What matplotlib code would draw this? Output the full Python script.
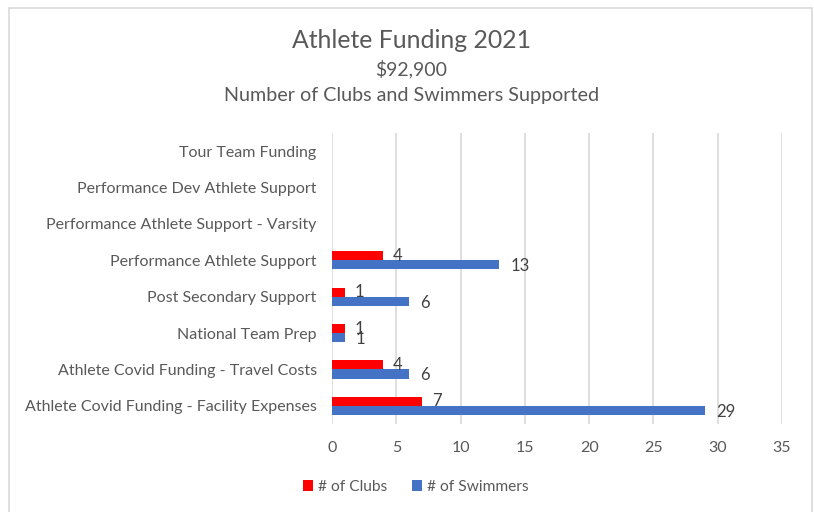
import matplotlib
matplotlib.use("Agg")
import matplotlib.pyplot as plt
import numpy as np

categories = [
    "Tour Team Funding",
    "Performance Dev Athlete Support",
    "Performance Athlete Support - Varsity",
    "Performance Athlete Support",
    "Post Secondary Support",
    "National Team Prep",
    "Athlete Covid Funding - Travel Costs",
    "Athlete Covid Funding - Facility Expenses",
]
clubs = [None, None, None, 4, 1, 1, 4, 7]
swimmers = [None, None, None, 13, 6, 1, 6, 29]
x_ticks = [0, 5, 10, 15, 20, 25, 30, 35]

plt.rcParams["font.family"] = ["Lato", "DejaVu Sans"]
TEXT = "#595959"
RED = "#ff0000"
BLUE = "#4472c4"

fig = plt.figure(figsize=(8.14, 5.12), dpi=100)
# outer chart border
fig.patches.append(plt.Rectangle((9 / 814, -0.05), 803 / 814, 1 - 8 / 512 + 0.05,
                                 transform=fig.transFigure, fill=False,
                                 edgecolor="#d9d9d9", linewidth=1.2))

ax = fig.add_axes([332 / 814, 1 - 424 / 512, 450 / 814, 291 / 512])

y = np.arange(len(categories))
h = 0.25
cv = [v if v is not None else 0 for v in clubs]
sv = [v if v is not None else 0 for v in swimmers]
ax.barh(y - h / 2, cv, height=h, color=RED, label="# of Clubs", zorder=3)
ax.barh(y + h / 2, sv, height=h, color=BLUE, label="# of Swimmers", zorder=3)

for yi, v in zip(y, clubs):
    if v is not None:
        ax.annotate(str(v), (v, yi - h / 2), xytext=(7, 0), textcoords="offset points",
                    ha="left", va="center", fontsize=12, color="#404040", zorder=4)
for yi, v in zip(y, swimmers):
    if v is not None:
        ax.annotate(str(v), (v, yi + h / 2), xytext=(8, -1), textcoords="offset points",
                    ha="left", va="center", fontsize=12, color="#404040", zorder=4)

ax.set_xlim(0, 35)
ax.set_ylim(len(categories) - 0.5, -0.5)
ax.set_xticks(x_ticks)
ax.set_xticklabels([str(t) for t in x_ticks], fontsize=11.5, color=TEXT)
ax.set_yticks(y)
ax.set_yticklabels(categories, fontsize=11.5, color=TEXT)
ax.tick_params(axis="y", length=0, pad=11)
ax.tick_params(axis="x", length=0, pad=12)
ax.grid(axis="x", color="#d9d9d9", linewidth=1.2, zorder=0)
for s in ax.spines.values():
    s.set_visible(False)

fig.text(411 / 814, 1 - 40 / 512, "Athlete Funding 2021", ha="center", va="center",
         fontsize=17.8, color=TEXT)
fig.text(411 / 814, 1 - 69 / 512, "$92,900", ha="center", va="center",
         fontsize=14, color=TEXT)
fig.text(412 / 814, 1 - 96 / 512, "Number of Clubs and Swimmers Supported", ha="center",
         va="center", fontsize=14.2, color=TEXT)

fig.legend(loc="center", bbox_to_anchor=(416 / 814, 1 - 487 / 512), ncol=2, frameon=False,
           fontsize=11.2, handlelength=0.65, handleheight=0.65, handletextpad=0.3,
           columnspacing=1.6, labelcolor=TEXT)

fig.savefig("out.png", dpi=100, facecolor="white")
